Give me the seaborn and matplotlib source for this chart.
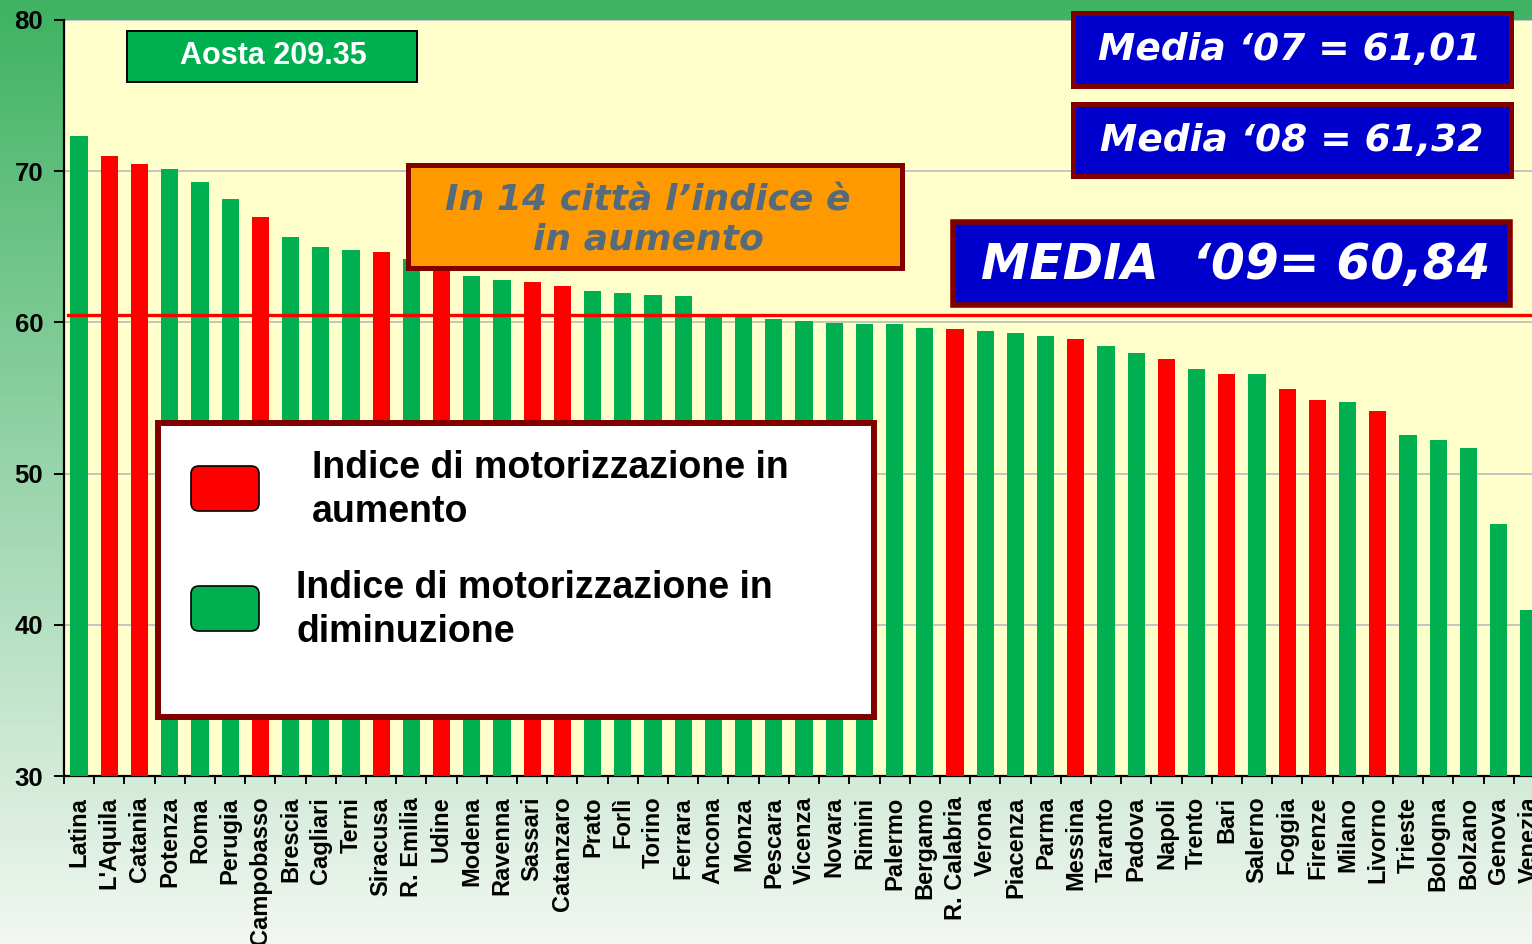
import numpy as np
import pandas as pd
import matplotlib
matplotlib.use("Agg")
import matplotlib.pyplot as plt
from matplotlib.patches import Rectangle, FancyBboxPatch
import seaborn as sns

# dati
citta = ["Latina", "L'Aquila", "Catania", "Potenza", "Roma", "Perugia", "Campobasso",
         "Brescia", "Cagliari", "Terni", "Siracusa", "R. Emilia", "Udine", "Modena",
         "Ravenna", "Sassari", "Catanzaro", "Prato", "Forlì", "Torino", "Ferrara",
         "Ancona", "Monza", "Pescara", "Vicenza", "Novara", "Rimini", "Palermo",
         "Bergamo", "R. Calabria", "Verona", "Piacenza", "Parma", "Messina", "Taranto",
         "Padova", "Napoli", "Trento", "Bari", "Salerno", "Foggia", "Firenze", "Milano",
         "Livorno", "Trieste", "Bologna", "Bolzano", "Genova", "Venezia"]
indice = [72.3, 71.0, 70.5, 70.15, 69.3, 68.15, 66.95,
          65.65, 65.0, 64.8, 64.65, 64.2, 63.7, 63.05,
          62.8, 62.65, 62.4, 62.1, 61.95, 61.8, 61.75,
          60.4, 60.4, 60.2, 60.1, 59.95, 59.9, 59.9,
          59.65, 59.55, 59.45, 59.3, 59.1, 58.9, 58.45,
          58.0, 57.55, 56.9, 56.6, 56.6, 55.6, 54.85, 54.75,
          54.15, 52.55, 52.2, 51.7, 46.65, 41.0]
in_aumento = ["L'Aquila", "Catania", "Campobasso", "Siracusa", "Udine", "Sassari",
              "Catanzaro", "R. Calabria", "Messina", "Napoli", "Bari", "Foggia",
              "Firenze", "Livorno"]
linea_media = 60.48
y_ticks = [30, 40, 50, 60, 70, 80]

df = pd.DataFrame({"citta": citta, "indice": indice})
df["stato"] = np.where(df["citta"].isin(in_aumento), "aumento", "diminuzione")

plt.rcParams["font.family"] = ["Liberation Sans", "DejaVu Sans"]
plt.rcParams["font.weight"] = "bold"

W, H = 1532, 944
fig = plt.figure(figsize=(W / 100, H / 100), dpi=100)

# sfondo sfumato verde
bg = fig.add_axes([0, 0, 1, 1], zorder=0)
top = np.array([0x3E, 0xB2, 0x62]) / 255
bot = np.array([0xF2, 0xF7, 0xF2]) / 255
t = np.linspace(0, 1, 256)[:, None]
grad = top[None, :] * (1 - t) + bot[None, :] * t
bg.imshow(grad[:, None, :], aspect="auto", extent=[0, 1, 0, 1])
bg.axis("off")

ax = fig.add_axes([64 / W, (H - 776) / H, (1544 - 64) / W, (776 - 20) / H], zorder=1)
ax.set_facecolor("#FFFFCC")

sns.barplot(data=df, x="citta", y="indice", hue="stato",
            palette={"aumento": "#FF0000", "diminuzione": "#00B050"},
            saturation=1, dodge=False, width=0.57, legend=False, ax=ax, zorder=3)

ax.set_ylim(30, 80)
ax.set_xlim(-0.5, len(citta) - 0.5)
ax.set_yticks(y_ticks)
ax.yaxis.grid(True, color="#C0C0C0", lw=1.3, zorder=0)
ax.set_axisbelow(True)
ax.axhline(linea_media, xmin=0.003, color="#FF0000", lw=2.4, zorder=4)

for s in ["top", "right"]:
    ax.spines[s].set_visible(False)
for s in ["left", "bottom"]:
    ax.spines[s].set_linewidth(1.6)
    ax.spines[s].set_color("black")

ax.set_xlabel("")
ax.set_ylabel("")
ax.tick_params(axis="y", length=7, width=1.4, pad=8, labelsize=18.5, direction="out")
ax.tick_params(axis="x", which="major", length=0, pad=15, labelsize=17, rotation=90)
ax.set_xticks(np.arange(-0.5, len(citta), 1), minor=True)
ax.tick_params(axis="x", which="minor", length=6, width=1.4, direction="out")

# livello annotazioni in pixel
ov = fig.add_axes([0, 0, 1, 1], zorder=2)
ov.set_xlim(0, W)
ov.set_ylim(H, 0)
ov.axis("off")


def box(x0, y0, x1, y1, fc, ec, lw):
    ov.add_patch(Rectangle((x0, y0), x1 - x0, y1 - y0, fc=fc, ec=ec, lw=lw))


# Aosta
box(127, 31, 417, 82, "#00B050", "black", 1.4)
ov.text(273, 56, "Aosta 209.35", ha="center", va="center", color="white", fontsize=22)

# riquadro arancione
box(408, 165, 902, 268, "#FF9900", "#800000", 3.6)
ov.text(648, 220, "In 14 città l’indice è\nin aumento", ha="center", va="center",
        color="#556B7B", fontsize=26, style="italic",
        family="DejaVu Sans", linespacing=1.2)

# medie
box(1073, 13, 1511, 86, "#0000CC", "#800000", 3.6)
ov.text(1290, 50, "Media ‘07 = 61,01", ha="center", va="center", color="white",
        fontsize=27, style="italic", family="DejaVu Sans")
box(1073, 104, 1511, 176, "#0000CC", "#800000", 3.6)
ov.text(1292, 141, "Media ‘08 = 61,32", ha="center", va="center", color="white",
        fontsize=27, style="italic", family="DejaVu Sans")
box(953, 222, 1510, 305, "#0000CC", "#800000", 4.0)
ov.text(1236, 265, "MEDIA  ‘09= 60,84", ha="center", va="center", color="white",
        fontsize=35, style="italic", family="DejaVu Sans")

# legenda
box(158, 423, 874, 717, "white", "#800000", 4.3)
ov.add_patch(FancyBboxPatch((191, 466), 68, 45, boxstyle="round,pad=0,rounding_size=8",
                            fc="#FF0000", ec="black", lw=1.2))
ov.add_patch(FancyBboxPatch((191, 586), 68, 45, boxstyle="round,pad=0,rounding_size=8",
                            fc="#00B050", ec="black", lw=1.2))
ov.text(312, 450, "Indice di motorizzazione in\naumento", ha="left", va="top",
        fontsize=27, linespacing=1.3)
ov.text(296, 570, "Indice di motorizzazione in\ndiminuzione", ha="left", va="top",
        fontsize=27, linespacing=1.3)

fig.savefig("out.png", dpi=100)
